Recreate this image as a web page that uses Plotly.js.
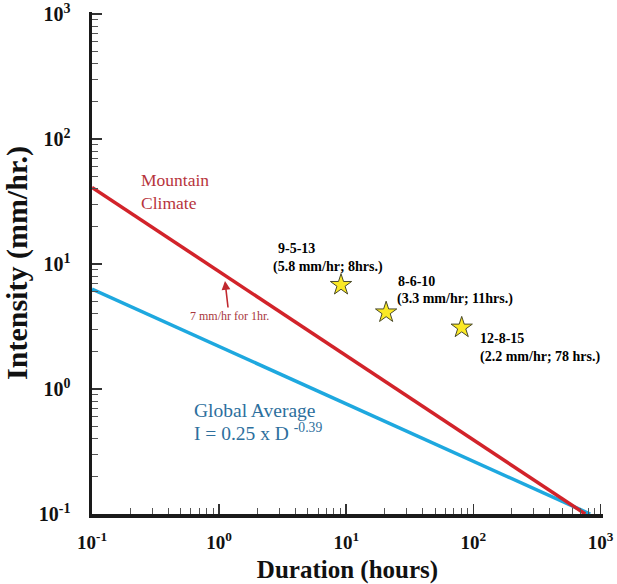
<!DOCTYPE html>
<html>
<head>
<meta charset="utf-8">
<script src="https://cdn.plot.ly/plotly-3.0.1.min.js"></script>
<style>html,body{margin:0;padding:0;background:#fff;}#chart{width:617px;height:584px;}</style>
</head>
<body>
<div id="chart"></div>
<script>
// ---- data ----
const mountainDuration = [0.1, 760];
const mountainIntensity = [41, 0.1];
const globalDuration = [0.1, 830];
const globalIntensity = [6.3, 0.1];
const eventDuration = [9.1, 20.6, 81];
const eventIntensity = [6.8, 4.1, 3.1];
const eventDates = ['9-5-13', '8-6-10', '12-8-15'];
const eventNotes = ['(5.8 mm/hr; 8hrs.)', '(3.3 mm/hr; 11hrs.)', '(2.2 mm/hr; 78 hrs.)'];
const tickValues = [0.1, 1, 10, 100, 1000];
const tickLabels = ['10<sup>-1</sup>', '10<sup>0</sup>', '10<sup>1</sup>', '10<sup>2</sup>', '10<sup>3</sup>'];
const mountainLabel = 'Mountain<br>Climate';
const oneHourNote = '7 mm/hr for 1hr.';
const globalLabel = 'Global Average';
const globalFormula = 'I = 0.25 x D <sup>-0.39</sup>';

// ---- layout helpers (pixel -> paper) ----
const W = 617, H = 584, L = 92, R = 14, T = 12, B = 70;
const PW = W - L - R, PH = H - T - B;
const yTop = 3 + 2 / 125;
const px = x => (x - L) / PW;
const py = y => (H - B - y) / PH;
const serif = 'Liberation Serif, Times New Roman, serif';

const traces = [
  {x: globalDuration, y: globalIntensity, mode: 'lines', line: {color: '#1ea8df', width: 3.5}, hoverinfo: 'skip'},
  {x: mountainDuration, y: mountainIntensity, mode: 'lines', line: {color: '#d2232a', width: 3.5}, hoverinfo: 'skip'},
  {x: eventDuration, y: eventIntensity, mode: 'markers',
   marker: {symbol: 'star', size: 16, color: '#fbe925', line: {color: '#4a4a2a', width: 1}}}
];

const evPos = [
  {d: [276, 248], n: [271, 267]},
  {d: [396, 281], n: [395, 299]},
  {d: [478, 338], n: [478, 357]}
];

const ann = [];
eventDates.forEach((t, i) => {
  ann.push({xref: 'paper', yref: 'paper', x: px(evPos[i].d[0]), y: py(evPos[i].d[1]), xanchor: 'left', yanchor: 'middle',
    text: t, showarrow: false, font: {family: serif, size: 14, color: '#000', weight: 'bold'}});
  ann.push({xref: 'paper', yref: 'paper', x: px(evPos[i].n[0]), y: py(evPos[i].n[1]), xanchor: 'left', yanchor: 'middle',
    text: eventNotes[i], showarrow: false, font: {family: serif, size: 14, color: '#000', weight: 'bold'}});
});
ann.push({xref: 'paper', yref: 'paper', x: px(139), y: py(191.5), xanchor: 'left', yanchor: 'middle', align: 'left',
  text: mountainLabel, showarrow: false, font: {family: serif, size: 17.5, color: '#b7343c'}});
ann.push({xref: 'paper', yref: 'paper', x: px(225), y: py(281), text: oneHourNote, showarrow: true,
  ax: 4, ay: 35, arrowhead: 2, arrowsize: 1.1, arrowwidth: 1.6, arrowcolor: '#c0282e', standoff: 0,
  font: {family: serif, size: 12, color: '#a8363c'}});
ann.push({xref: 'paper', yref: 'paper', x: px(192), y: py(410), xanchor: 'left', yanchor: 'middle',
  text: globalLabel, showarrow: false, font: {family: serif, size: 19.5, color: '#2d6f9d'}});
ann.push({xref: 'paper', yref: 'paper', x: px(192), y: py(432), xanchor: 'left', yanchor: 'middle',
  text: globalFormula, showarrow: false, font: {family: serif, size: 19.5, color: '#2d6f9d'}});

const axisCommon = {
  type: 'log', showgrid: false, zeroline: false,
  showline: true, linecolor: '#1a1a1a', linewidth: 3.5,
  ticks: 'inside', ticklen: 10, tickwidth: 1.5, tickcolor: '#333',
  tickmode: 'array', tickvals: tickValues, ticktext: tickLabels,
  ticklabeloverflow: 'allow',
  minor: {ticks: 'inside', ticklen: 6, tickwidth: 1, tickcolor: '#555', dtick: 'D1', showgrid: false},
  tickfont: {family: serif, size: 19, color: '#111', weight: 'bold'}
};

const layout = {
  width: W, height: H, margin: {l: L, r: R, t: T, b: B},
  paper_bgcolor: '#fff', plot_bgcolor: '#fff', showlegend: false,
  xaxis: Object.assign({}, axisCommon, {
    range: [-1, 3.02],
    ticklabelstandoff: 9,
    title: {text: 'Duration (hours)', font: {family: serif, size: 25, color: '#111', weight: 'bold'}, standoff: 12}
  }),
  yaxis: Object.assign({}, axisCommon, {
    range: [-1, yTop],
    ticklabelstandoff: 14,
    tickfont: {family: serif, size: 20, color: '#111', weight: 'bold'},
    title: {text: 'Intensity (mm/hr.)', font: {family: serif, size: 30, color: '#111', weight: 'bold'}, standoff: 5}
  }),
  annotations: ann
};

Plotly.newPlot('chart', traces, layout, {staticPlot: true, displayModeBar: false});
</script>
</body>
</html>
